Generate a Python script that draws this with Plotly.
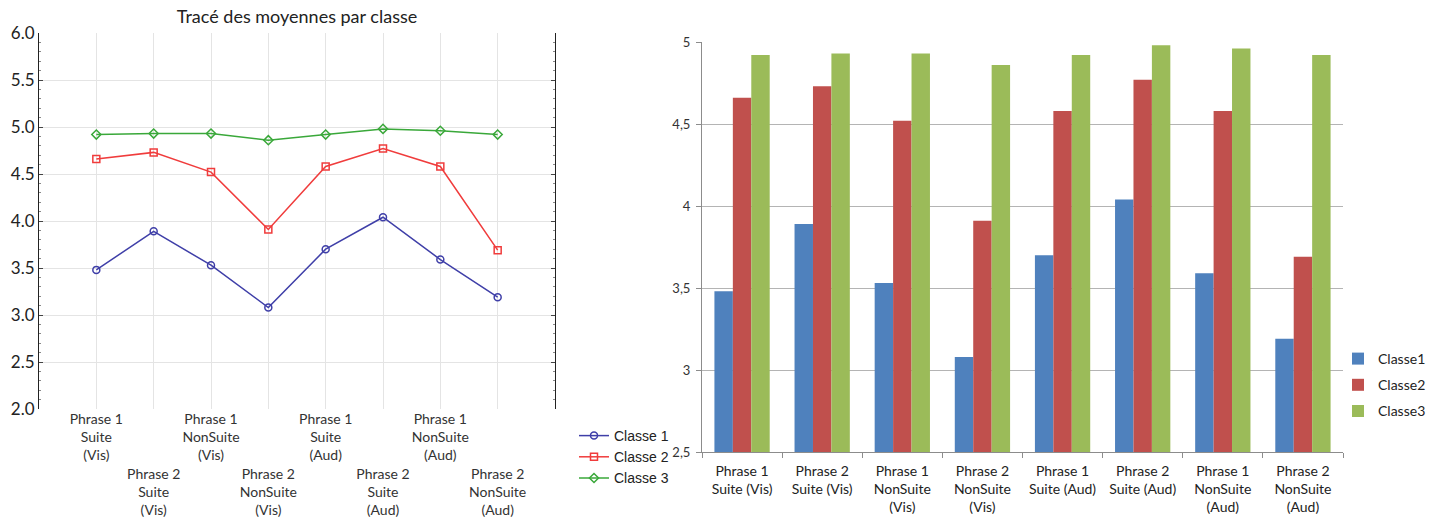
import plotly.graph_objects as go

# ---- data ----
positions = [1, 2, 3, 4, 5, 6, 7, 8]
line_labels = [
    "Phrase 1<br>Suite<br>(Vis)",
    "<br><br><br>Phrase 2<br>Suite<br>(Vis)",
    "Phrase 1<br>NonSuite<br>(Vis)",
    "<br><br><br>Phrase 2<br>NonSuite<br>(Vis)",
    "Phrase 1<br>Suite<br>(Aud)",
    "<br><br><br>Phrase 2<br>Suite<br>(Aud)",
    "Phrase 1<br>NonSuite<br>(Aud)",
    "<br><br><br>Phrase 2<br>NonSuite<br>(Aud)",
]
bar_categories = [
    "Phrase 1<br>Suite (Vis)",
    "Phrase 2<br>Suite (Vis)",
    "Phrase 1<br>NonSuite<br>(Vis)",
    "Phrase 2<br>NonSuite<br>(Vis)",
    "Phrase 1<br>Suite (Aud)",
    "Phrase 2<br>Suite (Aud)",
    "Phrase 1<br>NonSuite<br>(Aud)",
    "Phrase 2<br>NonSuite<br>(Aud)",
]
classe1 = [3.48, 3.89, 3.53, 3.08, 3.70, 4.04, 3.59, 3.19]
classe2 = [4.66, 4.73, 4.52, 3.91, 4.58, 4.77, 4.58, 3.69]
classe3 = [4.92, 4.93, 4.93, 4.86, 4.92, 4.98, 4.96, 4.92]

left_ticks = [2.0, 2.5, 3.0, 3.5, 4.0, 4.5, 5.0, 5.5, 6.0]
right_tickvals = [2.5, 3, 3.5, 4, 4.5, 5]
right_ticktext = ["2,5", "3", "3,5", "4", "4,5", "5"]

line_names = ["Classe 1", "Classe 2", "Classe 3"]
bar_names = ["Classe1", "Classe2", "Classe3"]
line_colors = ["#3f3fa8", "#f03c3c", "#3aa83a"]
line_symbols = ["circle-open", "square-open", "diamond-open"]
bar_colors = ["#4f81bd", "#c0504d", "#9bbb59"]

W, H = 1440, 519
def px_x(a, b):
    return [a / W, b / W]
def px_y(top, bottom):
    return [1 - bottom / H, 1 - top / H]

fig = go.Figure()
series = [classe1, classe2, classe3]
for i, vals in enumerate(series):
    fig.add_trace(go.Scatter(
        x=positions, y=vals, name=line_names[i], mode="lines+markers",
        line=dict(color=line_colors[i], width=1.5),
        marker=dict(symbol=line_symbols[i], size=7, color=line_colors[i],
                    line=dict(width=1.5)),
        xaxis="x", yaxis="y", legend="legend",
    ))
for i, vals in enumerate(series):
    fig.add_trace(go.Bar(
        x=bar_categories, y=vals, name=bar_names[i],
        marker=dict(color=bar_colors[i], line=dict(width=0)),
        xaxis="x2", yaxis="y2", legend="legend2", legendgroup=bar_names[i],
    ))

fig.update_layout(
    width=W, height=H, margin=dict(l=0, r=0, t=0, b=0, autoexpand=False),
    paper_bgcolor="white", plot_bgcolor="white",
    font=dict(family="Lato", color="#222"),
    title=dict(text="Tracé des moyennes par classe", x=297 / W, xanchor="center",
               y=1 - 17 / H, yanchor="middle", yref="container", automargin=False,
               font=dict(size=18, family="Lato", color="#222")),
    barmode="group", bargap=0.31, bargroupgap=0,
    xaxis=dict(domain=px_x(39, 555), range=[0, 9], tickmode="array",
               tickvals=positions, ticktext=line_labels, tickangle=0,
               showgrid=True, gridcolor="#e4e4e4", gridwidth=1,
               zeroline=False, showline=False, ticks="", automargin=False,
               ticklabelstandoff=0,
               tickfont=dict(size=14, family="Lato", color="#333"),
               anchor="y"),
    yaxis=dict(domain=px_y(33, 409), range=[2, 6], tickmode="array",
               tickvals=left_ticks, tickformat=".1f", automargin=False,
               showgrid=True, gridcolor="#e4e4e4", gridwidth=1,
               zeroline=False, showline=True, linecolor="#222", linewidth=1,
               mirror="ticks", ticks="inside", ticklen=4, tickcolor="#444",
               minor=dict(dtick=0.1, ticks="inside", ticklen=2, tickcolor="#888", showgrid=False),
               tickfont=dict(size=17, family="Lato", color="#222"),
               anchor="x"),
    xaxis2=dict(domain=px_x(702, 1343), type="category", tickangle=0,
                tickson="boundaries", ticks="outside", ticklen=5, tickcolor="#8c8c8c",
                showline=True, linecolor="#8c8c8c", linewidth=1, automargin=False,
                showgrid=False, zeroline=False, ticklabelstandoff=6,
                tickfont=dict(size=14, family="Lato", color="#222"),
                anchor="y2"),
    yaxis2=dict(domain=px_y(42, 452), range=[2.5, 5], tickmode="array",
                tickvals=right_tickvals, ticktext=right_ticktext, automargin=False,
                showgrid=True, gridcolor="#b4b4b4", gridwidth=1,
                zeroline=False, showline=True, linecolor="#8c8c8c", linewidth=1,
                ticks="outside", ticklen=5, tickcolor="#8c8c8c", ticklabelstandoff=3,
                tickfont=dict(size=13, family="Lato", color="#333"),
                anchor="x2"),
    legend=dict(x=574 / W, y=1 - 420 / H, xanchor="left", yanchor="top",
                bgcolor="rgba(0,0,0,0)", font=dict(size=14, family="Liberation Sans", color="#222"),
                itemwidth=30, tracegroupgap=0),
    legend2=dict(x=1338 / W, y=1 - 343 / H, xanchor="left", yanchor="top",
                 bgcolor="rgba(0,0,0,0)", font=dict(size=14, family="Lato", color="#222"),
                 tracegroupgap=5, itemwidth=30),
)

fig.write_html("out.html", config={"displayModeBar": False},
               post_script="document.body.style.margin='0';document.body.style.padding='0';")
